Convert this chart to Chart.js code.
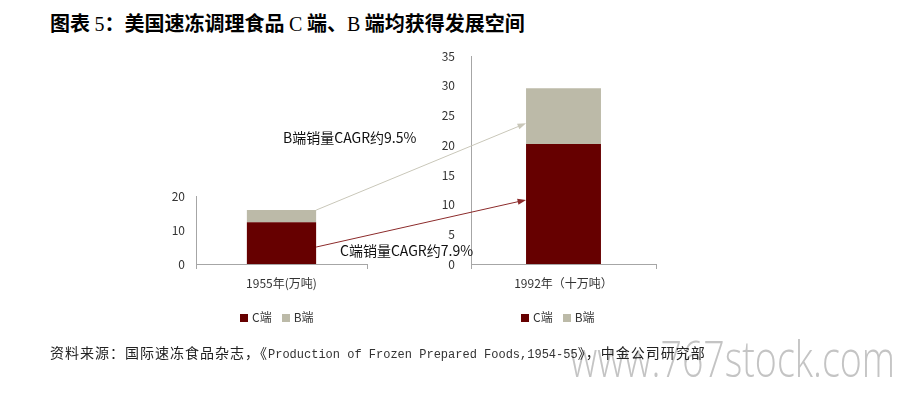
<!DOCTYPE html>
<html>
<head>
<meta charset="utf-8">
<script src="https://cdn.jsdelivr.net/npm/chart.js@4/dist/chart.umd.min.js"></script>
<style>
    body { margin: 0; background: #fff; width: 898px; height: 397px; position: relative; overflow: hidden;
           font-family: "Noto Sans CJK SC", "Noto Sans", sans-serif; color: #222; }
    .abs { position: absolute; white-space: nowrap; }
    .title { left: 50px; top: 8px; font-size: 20px; font-weight: bold; color: #000; }
    .title .lat { font-family: "Liberation Serif", serif; font-weight: normal; }
    .source { left: 50px; top: 342px; font-size: 14px; color: #222; letter-spacing: 1px; z-index: 3; }
    .source .lat { font-family: "Liberation Mono", monospace; font-size: 12px; color: #333; letter-spacing: 0; }
    .note { font-size: 14px; color: #111; }
    .legend { font-size: 12px; color: #333; }
    .legend i { display: inline-block; width: 8px; height: 8px; margin-right: 4px; }
    .legend span { margin-right: 10px; }
    #watermark { left: 570px; top: 324px; font-family: "Open Sans", sans-serif; font-weight: 300; font-size: 50px;
                 color: #c4c4c4; transform-origin: 0 0; z-index: 1; }
    canvas { position: absolute; }
    #overlay { left: 0; top: 0; pointer-events: none; }
</style>
</head>
<body>
<div class="abs" id="watermark">www.767stock.com</div>
<div class="abs title">图表 <span class="lat">5</span>：美国速冻调理食品 <span class="lat">C</span> 端、<span class="lat">B</span> 端均获得发展空间</div>

<canvas id="chart1955"></canvas>
<canvas id="chart1992"></canvas>
<canvas id="overlay" width="898" height="397"></canvas>

<div class="abs note" id="noteB" style="left:283px; top:127px;"></div>
<div class="abs note" id="noteC" style="left:340px; top:240px;"></div>

<div class="abs legend" id="legend1955" style="left:240px; top:308px;"></div>
<div class="abs legend" id="legend1992" style="left:521px; top:308px;"></div>

<div class="abs source">资料来源：国际速冻食品杂志，《<span class="lat">Production of Frozen Prepared Foods,1954-55</span>》，中金公司研究部</div>

<script>
// data
const labels1955 = ['1955年(万吨)']
const labels1992 = ['1992年（十万吨）']
const cSales1955 = [12.3]
const bSales1955 = [3.6]
const cSales1992 = [20.2]
const bSales1992 = [9.4]
const ticks1955 = [0, 10, 20]
const ticks1992 = [0, 5, 10, 15, 20, 25, 30, 35]
const seriesNames = ['C端', 'B端']
const seriesColors = ['#660000', '#bcbaa8']

// growth arrows: value on the 1955 axis -> value on the 1992 axis
const arrowNotes = ['B端销量CAGR约9.5%', 'C端销量CAGR约7.9%']
const arrowFrom = [15.9, 5.0]
const arrowTo = [23.7, 10.8]
const arrowColors = ['#c9c7b9', '#8c2b2b']

const axisColor = '#a6a6a6'
const textFont = { family: '"Noto Sans CJK SC", sans-serif', size: 12 }
const xAxisHeight = 40

function makeChart(canvas, labels, cVals, bVals, tickValues, tickPad) {
    const max = tickValues[tickValues.length - 1]
    return new Chart(canvas, {
        type: 'bar',
        data: {
            labels: labels,
            datasets: [
                { label: seriesNames[0], data: cVals, backgroundColor: seriesColors[0] },
                { label: seriesNames[1], data: bVals, backgroundColor: seriesColors[1] }
            ]
        },
        options: {
            responsive: false,
            animation: false,
            categoryPercentage: 1,
            barPercentage: 0.405,
            layout: { padding: { top: 0, right: 10, left: 0, bottom: 0 } },
            plugins: { legend: { display: false }, tooltip: { enabled: false } },
            scales: {
                x: {
                    stacked: true,
                    grid: { display: true, drawOnChartArea: false, color: axisColor, tickLength: 5, offset: true },
                    border: { color: axisColor },
                    ticks: { color: '#333', font: textFont, padding: 7, maxRotation: 0 },
                    afterFit: s => { s.height = xAxisHeight }
                },
                y: {
                    stacked: true,
                    min: 0,
                    max: max,
                    grid: { display: false, drawTicks: false },
                    border: { color: axisColor },
                    ticks: { color: '#333', font: textFont, padding: tickPad },
                    afterBuildTicks: s => { s.ticks = tickValues.map(v => ({ value: v })) },
                    afterFit: s => { s.width = 46 }
                }
            }
        }
    })
}

// place a chart so its plot area spans axisX..rightX and topY..bottomY on the page
function placeChart(id, axisX, rightX, topY, bottomY, labels, cVals, bVals, tickValues, tickPad) {
    const canvas = document.getElementById(id)
    const width = rightX - axisX + 46 + 10
    canvas.width = width
    canvas.height = bottomY - topY + xAxisHeight + 30
    let chart = makeChart(canvas, labels, cVals, bVals, tickValues, tickPad)
    const extraTop = chart.chartArea.top
    chart.destroy()
    canvas.width = width
    canvas.height = extraTop + bottomY - topY + xAxisHeight
    canvas.style.width = canvas.width + 'px'
    canvas.style.height = canvas.height + 'px'
    canvas.style.left = (axisX - 46) + 'px'
    canvas.style.top = (topY - extraTop) + 'px'
    return makeChart(canvas, labels, cVals, bVals, tickValues, tickPad)
}

const chart1955 = placeChart('chart1955', 196, 367, 196, 264, labels1955, cSales1955, bSales1955, ticks1955, 11)
const chart1992 = placeChart('chart1992', 471, 656, 56, 264, labels1992, cSales1992, bSales1992, ticks1992, 16)

// arrows from the 1955 bar to the 1992 bar
function drawArrows() {
    const ctx = document.getElementById('overlay').getContext('2d')
    const bar1 = chart1955.getDatasetMeta(0).data[0]
    const bar2 = chart1992.getDatasetMeta(0).data[0]
    const c1 = chart1955.canvas, c2 = chart1992.canvas
    arrowFrom.forEach((v, i) => {
        const x1 = c1.offsetLeft + bar1.x + bar1.width / 2
        const y1 = c1.offsetTop + chart1955.scales.y.getPixelForValue(v)
        const x2 = c2.offsetLeft + bar2.x - bar2.width / 2
        const y2 = c2.offsetTop + chart1992.scales.y.getPixelForValue(arrowTo[i])
        const ang = Math.atan2(y2 - y1, x2 - x1)
        const head = 9
        ctx.strokeStyle = arrowColors[i]
        ctx.fillStyle = arrowColors[i]
        ctx.lineWidth = 1
        ctx.beginPath()
        ctx.moveTo(x1, y1)
        ctx.lineTo(x2 - Math.cos(ang) * head * 0.8, y2 - Math.sin(ang) * head * 0.8)
        ctx.stroke()
        ctx.beginPath()
        ctx.moveTo(x2, y2)
        ctx.lineTo(x2 - head * Math.cos(ang - 0.35), y2 - head * Math.sin(ang - 0.35))
        ctx.lineTo(x2 - head * Math.cos(ang + 0.35), y2 - head * Math.sin(ang + 0.35))
        ctx.closePath()
        ctx.fill()
    })
}
drawArrows()

document.getElementById('noteB').textContent = arrowNotes[0]
document.getElementById('noteC').textContent = arrowNotes[1]

function fillLegend(id) {
    document.getElementById(id).innerHTML = seriesNames
        .map((n, i) => `<span><i style="background:${seriesColors[i]}"></i>${n}</span>`)
        .join('')
}
fillLegend('legend1955')
fillLegend('legend1992')

// squeeze the watermark to its width in the picture
const wm = document.getElementById('watermark')
wm.style.transform = `scaleX(${325 / wm.getBoundingClientRect().width})`
</script>
</body>
</html>
